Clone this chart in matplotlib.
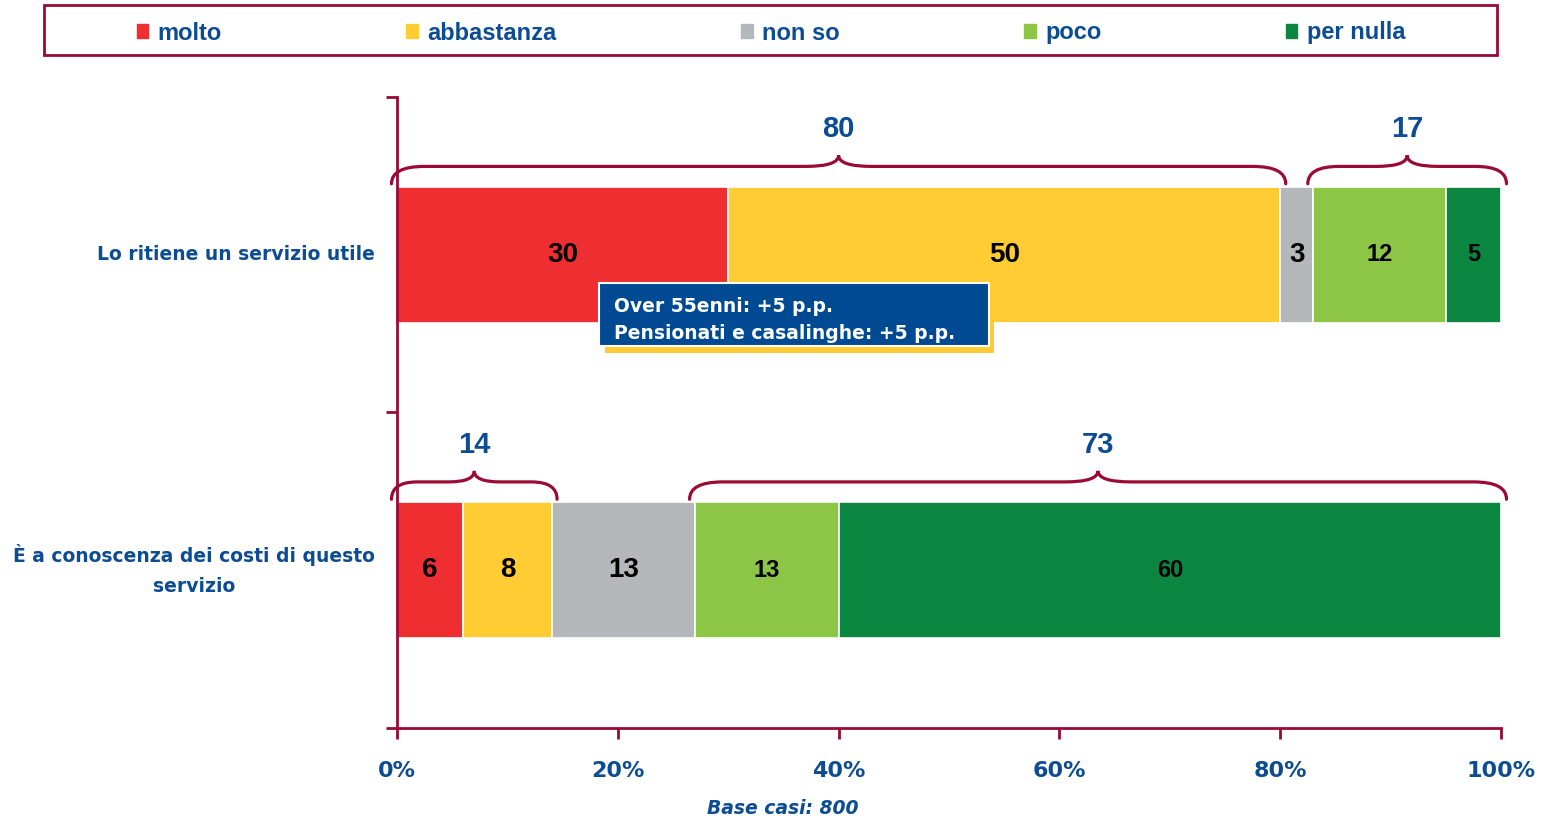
import numpy as np
import matplotlib.pyplot as plt
from matplotlib.patches import Patch, Rectangle, PathPatch
from matplotlib.path import Path

# %%
categories = ["Lo ritiene un servizio utile", "È a conoscenza dei costi di questo\nservizio"]
series_names = ["molto", "abbastanza", "non so", "poco", "per nulla"]
colors = ["#EF2E32", "#FFCC33", "#B5B8BB", "#8DC646", "#0A8641"]
values = np.array([
    [30, 50, 3, 12, 5],
    [6, 8, 13, 13, 60],
])
big_label = np.array([
    [True, True, True, False, False],
    [True, True, True, False, False],
])
# brace groups: (row, first segment, last segment, label)
groups = [(0, 0, 1, "80"), (0, 3, 4, "17"), (1, 0, 1, "14"), (1, 3, 4, "73")]
xticks = [0, 20, 40, 60, 80, 100]
callout = "Over 55enni: +5 p.p.\nPensionati e casalinghe: +5 p.p."

maroon = "#9B0A37"
blue = "#0B4C93"


def brace(ax, x0, x1, yb, yf, yt, r):
    xm = (x0 + x1) / 2
    verts = [(x0, yb), (x0, yf), (x0 + r, yf), (xm - r, yf), (xm, yf), (xm, yt),
             (xm, yf), (xm + r, yf), (x1 - r, yf), (x1, yf), (x1, yb)]
    codes = [Path.MOVETO, Path.CURVE3, Path.CURVE3, Path.LINETO, Path.CURVE3, Path.CURVE3,
             Path.CURVE3, Path.CURVE3, Path.LINETO, Path.CURVE3, Path.CURVE3]
    ax.add_patch(PathPatch(Path(verts, codes), facecolor="none", edgecolor=maroon,
                           lw=2.3, clip_on=False, capstyle="round"))
    return xm


# %%
fig = plt.figure(figsize=(15.49, 8.19), dpi=100)
ax = fig.add_axes([397 / 1549, 1 - 728 / 819, 1104 / 1549, 631 / 819])

ypos = np.array([0.5, 1.5])
starts = np.hstack([np.zeros((2, 1)), np.cumsum(values, axis=1)[:, :-1]])
for j, name in enumerate(series_names):
    ax.barh(ypos, values[:, j], left=starts[:, j], height=0.43, color=colors[j],
            edgecolor="white", linewidth=1.2, label=name)
    for i in range(len(categories)):
        ax.text(starts[i, j] + values[i, j] / 2, ypos[i], str(values[i, j]),
                ha="center", va="center", fontweight="bold", family="Liberation Sans",
                fontsize=20 if big_label[i, j] else 17, color="black")

for row, a, b, lab in groups:
    x0 = starts[row, a]
    x1 = starts[row, b] + values[row, b]
    w = x1 - x0
    r = min(3.0, w / 6)
    top = ypos[row] - 0.215
    xm = brace(ax, x0 - 0.5, x1 + 0.5, top - 0.01, top - 0.065, top - 0.1, r)
    ax.text(xm, top - 0.183, lab, ha="center", va="center", color=blue,
            fontsize=21, fontweight="bold", family="Liberation Sans")

ax.set_xlim(0, 100)
ax.set_ylim(2, 0)
ax.set_xticks(xticks)
ax.set_xticklabels([f"{t}%" for t in xticks])
ax.set_yticks([0, 1, 2])
ax.set_yticklabels([])
ax.set_yticks(ypos, minor=True)
ax.set_yticklabels(categories, minor=True)
ax.tick_params(axis="y", which="minor", length=0, pad=16, labelsize=13.5, labelcolor=blue)
ax.tick_params(axis="y", which="major", length=8, width=2, color=maroon)
ax.tick_params(axis="x", length=8, width=2, color=maroon, pad=16, labelsize=16, labelcolor=blue)
for lbl in ax.get_yticklabels(minor=True):
    lbl.set_fontweight("bold")
    lbl.set_multialignment("center")
    lbl.set_linespacing(1.75)
    lbl.set_va("center")
for lbl in ax.get_xticklabels():
    lbl.set_fontweight("bold")
for s in ["top", "right"]:
    ax.spines[s].set_visible(False)
for s in ["left", "bottom"]:
    ax.spines[s].set_color(maroon)
    ax.spines[s].set_linewidth(2)

# callout box
ax.add_patch(Rectangle((18.8, 0.61), 35.3, 0.2, facecolor="#FFCC33", edgecolor="none", zorder=5))
ax.add_patch(Rectangle((18.3, 0.59), 35.3, 0.2, facecolor="#004A93", edgecolor="white",
                       lw=1.5, zorder=6))
ax.text(19.7, 0.707, callout, ha="left", va="center", color="white", fontsize=13.5,
        fontweight="bold", linespacing=1.5, zorder=7)

# legend with frame
fig.add_artist(Rectangle((44 / 1549, 1 - 55 / 819), 1453 / 1549, 50 / 819, transform=fig.transFigure,
                         facecolor="none", edgecolor=maroon, lw=2))
handles = [Patch(color=c, label=n) for c, n in zip(colors, series_names)]
leg = fig.legend(handles=handles, loc="center", bbox_to_anchor=(771 / 1549, 1 - 33 / 819),
                 ncol=5, frameon=False, handlelength=0.5, handleheight=0.5,
                 handletextpad=0.4, columnspacing=7.8,
                 prop={"family": "Liberation Sans", "weight": "bold", "size": 17})
for t in leg.get_texts():
    t.set_color(blue)

fig.text(783 / 1549, 1 - 808 / 819, "Base casi: 800", ha="center", va="center", color=blue,
         fontsize=13.5, fontweight="bold", fontstyle="italic")

fig.savefig("out.png", dpi=100)
